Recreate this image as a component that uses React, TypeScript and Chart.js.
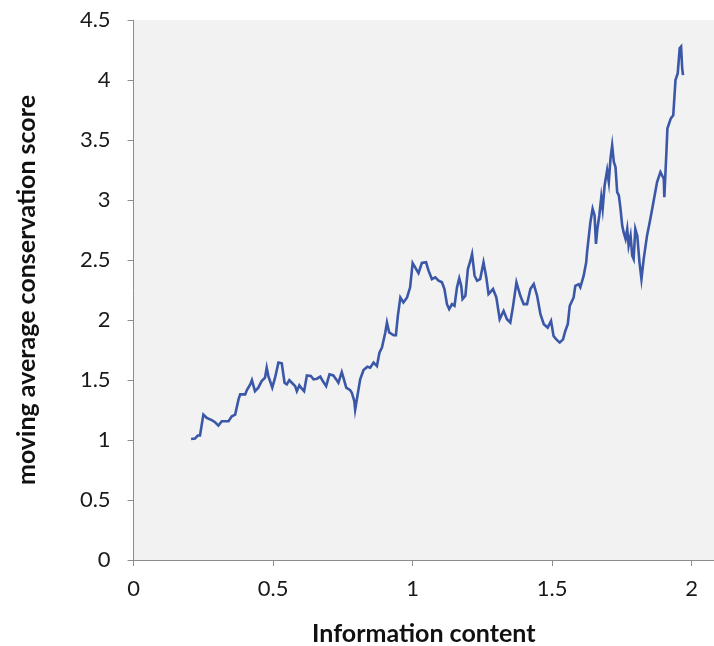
import React, { useEffect, useRef } from "react";
import { Chart, registerables } from "chart.js";

Chart.register(...registerables);

// Information content (x) and the moving-average conservation score at each step (y)
const infoContent: number[] = [
  0.206, 0.220, 0.230, 0.238, 0.250, 0.262, 0.280, 0.292, 0.304, 0.316,
  0.340, 0.352, 0.364, 0.376, 0.382, 0.400, 0.406, 0.418, 0.424, 0.435,
  0.447, 0.459, 0.471, 0.477, 0.483, 0.497, 0.507, 0.519, 0.531, 0.541,
  0.549, 0.558, 0.567, 0.579, 0.585, 0.594, 0.603, 0.611, 0.621, 0.635,
  0.645, 0.657, 0.669, 0.678, 0.690, 0.702, 0.716, 0.726, 0.734, 0.746,
  0.752, 0.762, 0.776, 0.782, 0.791, 0.794, 0.800, 0.812, 0.824, 0.838,
  0.848, 0.860, 0.872, 0.881, 0.890, 0.902, 0.908, 0.916, 0.932, 0.940,
  0.947, 0.956, 0.967, 0.980, 0.991, 1.000, 1.009, 1.021, 1.033, 1.048,
  1.057, 1.069, 1.081, 1.093, 1.105, 1.114, 1.123, 1.131, 1.141, 1.150,
  1.159, 1.167, 1.174, 1.179, 1.189, 1.198, 1.207, 1.213, 1.222, 1.231,
  1.242, 1.254, 1.264, 1.272, 1.288, 1.300, 1.312, 1.326, 1.338, 1.350,
  1.360, 1.372, 1.386, 1.398, 1.410, 1.422, 1.434, 1.446, 1.458, 1.470,
  1.484, 1.496, 1.505, 1.515, 1.527, 1.539, 1.547, 1.556, 1.563, 1.577,
  1.583, 1.595, 1.601, 1.613, 1.622, 1.625, 1.637, 1.645, 1.652, 1.657,
  1.662, 1.669, 1.676, 1.681, 1.688, 1.697, 1.703, 1.709, 1.715, 1.721,
  1.727, 1.733, 1.739, 1.745, 1.751, 1.756, 1.763, 1.769, 1.774, 1.781,
  1.787, 1.792, 1.798, 1.805, 1.813, 1.820, 1.828, 1.840, 1.852, 1.864,
  1.876, 1.888, 1.900, 1.902, 1.910, 1.913, 1.925, 1.934, 1.942, 1.950,
  1.957, 1.962, 1.966, 1.969,
];

const conservationScore: number[] = [
  1.009, 1.012, 1.037, 1.037, 1.212, 1.185, 1.165, 1.148, 1.120, 1.156,
  1.156, 1.198, 1.212, 1.338, 1.380, 1.380, 1.416, 1.463, 1.499, 1.407,
  1.436, 1.491, 1.519, 1.603, 1.533, 1.436, 1.519, 1.645, 1.639, 1.477,
  1.463, 1.499, 1.477, 1.449, 1.407, 1.455, 1.427, 1.407, 1.538, 1.533,
  1.505, 1.511, 1.528, 1.491, 1.449, 1.547, 1.538, 1.505, 1.477, 1.566,
  1.519, 1.436, 1.416, 1.394, 1.324, 1.254, 1.338, 1.505, 1.583, 1.611,
  1.603, 1.645, 1.616, 1.728, 1.770, 1.896, 1.979, 1.896, 1.873, 1.873,
  2.034, 2.188, 2.146, 2.188, 2.272, 2.475, 2.439, 2.391, 2.475, 2.481,
  2.411, 2.341, 2.355, 2.327, 2.314, 2.258, 2.132, 2.090, 2.132, 2.118,
  2.272, 2.347, 2.285, 2.174, 2.202, 2.425, 2.494, 2.550, 2.369, 2.327,
  2.341, 2.481, 2.355, 2.216, 2.258, 2.188, 2.007, 2.076, 2.007, 1.979,
  2.118, 2.314, 2.202, 2.132, 2.132, 2.258, 2.299, 2.202, 2.048, 1.965,
  1.937, 1.992, 1.867, 1.839, 1.812, 1.839, 1.909, 1.965, 2.118, 2.188,
  2.285, 2.299, 2.272, 2.369, 2.481, 2.564, 2.815, 2.926, 2.871, 2.634,
  2.759, 2.871, 3.024, 2.926, 3.121, 3.247, 3.150, 3.344, 3.456, 3.317,
  3.275, 3.066, 3.038, 2.926, 2.787, 2.732, 2.676, 2.759, 2.620, 2.703,
  2.536, 2.508, 2.759, 2.703, 2.481, 2.341, 2.508, 2.703, 2.843, 2.996,
  3.150, 3.233, 3.177, 3.024, 3.428, 3.595, 3.679, 3.707, 3.999, 4.055,
  4.264, 4.278, 4.097, 4.041,
];

const xTickValues: number[] = [0, 0.5, 1, 1.5, 2];
const yTickValues: number[] = [0, 0.5, 1, 1.5, 2, 2.5, 3, 3.5, 4, 4.5];

const X_TITLE = "Information content";
const Y_TITLE = "moving average conservation score";

const FONT_FAMILY = "Lato, 'Open Sans', sans-serif";
const AXIS_GRAY = "#8c8c8c";
const LINE_BLUE = "#3b57a8";

// Fills the plotting area with a light grey panel
const plotBackground = {
  id: "plotBackground",
  beforeDraw(chart: Chart) {
    const { ctx, chartArea } = chart;
    if (!chartArea) return;
    ctx.save();
    ctx.fillStyle = "#f2f2f2";
    ctx.fillRect(
      chartArea.left,
      chartArea.top,
      chartArea.right - chartArea.left,
      chartArea.bottom - chartArea.top
    );
    ctx.restore();
  },
};

export default function App() {
  const canvasRef = useRef<HTMLCanvasElement | null>(null);

  useEffect(() => {
    if (!canvasRef.current) return;
    const points = infoContent.map((x, i) => ({ x, y: conservationScore[i] }));

    const chart = new Chart(canvasRef.current, {
      type: "line",
      data: {
        datasets: [
          {
            data: points,
            borderColor: LINE_BLUE,
            borderWidth: 2.6,
            pointRadius: 0,
            tension: 0,
            fill: false,
          },
        ],
      },
      options: {
        animation: false,
        responsive: false,
        maintainAspectRatio: false,
        layout: { padding: { top: 20, right: 0, bottom: 0, left: 0 } },
        plugins: {
          legend: { display: false },
          tooltip: { enabled: false },
        },
        scales: {
          x: {
            type: "linear",
            min: 0,
            max: 2.08,
            afterBuildTicks: (scale: any) => {
              scale.ticks = xTickValues.map((v) => ({ value: v }));
            },
            afterFit: (scale: any) => {
              scale.height = 86;
              scale.paddingLeft = 0;
              scale.paddingRight = 0;
            },
            border: { display: true, color: AXIS_GRAY, width: 1 },
            grid: {
              display: true,
              drawOnChartArea: false,
              drawTicks: true,
              tickLength: 6,
              color: AXIS_GRAY,
            },
            ticks: {
              padding: 10,
              maxRotation: 0,
              autoSkip: false,
              color: "#1a1a1a",
              font: { family: FONT_FAMILY, size: 22 },
              callback: (v: any) => String(v),
            },
            title: {
              display: true,
              text: X_TITLE,
              color: "#111",
              font: { family: FONT_FAMILY, size: 25, weight: "bold", lineHeight: 1 },
              padding: { top: 0, bottom: 0 },
            },
          },
          y: {
            type: "linear",
            min: 0,
            max: 4.5,
            afterBuildTicks: (scale: any) => {
              scale.ticks = yTickValues.map((v) => ({ value: v }));
            },
            afterFit: (scale: any) => {
              scale.width = 133.6;
              scale.paddingTop = 0;
              scale.paddingBottom = 0;
            },
            border: { display: true, color: AXIS_GRAY, width: 1 },
            grid: {
              display: true,
              drawOnChartArea: false,
              drawTicks: true,
              tickLength: 6,
              color: AXIS_GRAY,
            },
            ticks: {
              padding: 17,
              autoSkip: false,
              color: "#1a1a1a",
              font: { family: FONT_FAMILY, size: 22 },
              callback: (v: any) => String(v),
            },
            title: {
              display: true,
              text: Y_TITLE,
              color: "#111",
              font: { family: FONT_FAMILY, size: 25, weight: "bold", lineHeight: 1 },
              padding: { top: 14, bottom: 0 },
            },
          },
        },
      },
      plugins: [plotBackground],
    });

    return () => chart.destroy();
  }, []);

  return (
    <div
      style={{
        position: "fixed",
        left: 0,
        top: 0,
        width: 714,
        height: 646,
        background: "#ffffff",
      }}
    >
      <canvas ref={canvasRef} width={714} height={646} />
    </div>
  );
}
